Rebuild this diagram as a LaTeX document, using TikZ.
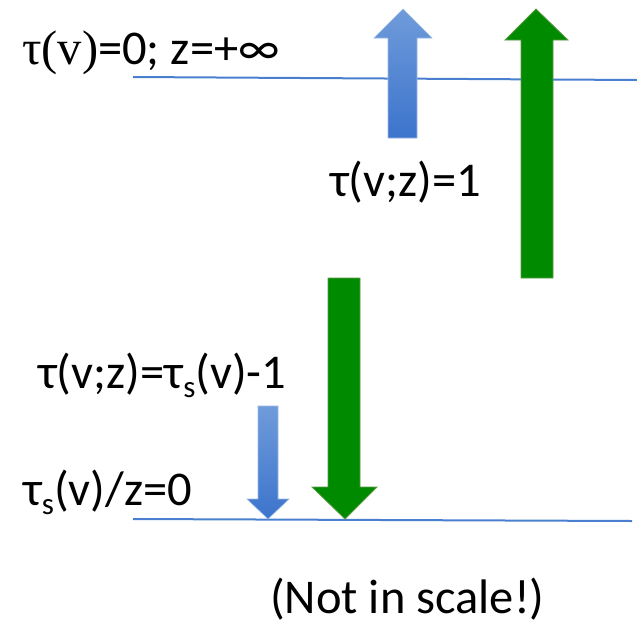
\documentclass[tikz,border=0pt]{standalone}
\usepackage{fontspec}
\setmainfont{Carlito}
\newfontfamily\cambria{Liberation Serif}
\definecolor{levelblue}{HTML}{4A7FD0}
\definecolor{arrowlight}{HTML}{6F9BDA}
\definecolor{arrowdark}{HTML}{3C74CC}
\definecolor{arrowgreen}{HTML}{008A00}
\definecolor{greenrim}{HTML}{5E9A48}
\newcommand{\subs}{\raisebox{-9pt}{\fontsize{31}{31}\selectfont s}}
\begin{document}
\begin{tikzpicture}[x=1pt,y=-1pt,
    level/.style={levelblue,line width=2pt},
    bluearrow/.style={top color=arrowlight,bottom color=arrowdark,draw=arrowlight!70,line width=0.6pt},
    greenarrow/.style={fill=arrowgreen,draw=greenrim,line width=0.8pt},
    lbl/.style={anchor=base west,inner sep=0pt,font=\fontsize{48.5}{58}\selectfont}]
  \useasboundingbox (0,0) rectangle (637,627);

  % Levels
  \draw[level] (133,77) -- (637,80);
  \draw[level] (133,519) -- (632,521);

  % Arrows up
  \path[bluearrow] (388,138) -- (388,38) -- (374,38) -- (403,9) -- (432,38) -- (417,38) -- (417,138) -- cycle;
  \path[greenarrow] (521,278) -- (521,40) -- (505,40) -- (536,9) -- (568,40) -- (553,40) -- (553,278) -- cycle;

  % Arrows down
  \path[bluearrow] (258,406) -- (258,499) -- (247,499) -- (268,519) -- (289,499) -- (278,499) -- (278,406) -- cycle;
  \path[greenarrow] (328,278) -- (328,487) -- (312,487) -- (345,519) -- (377,487) -- (360,487) -- (360,278) -- cycle;

  % Labels
  \node[lbl] (top) at (22,64) {{\cambria τ(v)}=0; z=+∞};
  \node[lbl] (one) at (330,196) {τ(v;z)=1};
  \node[lbl] (minus) at (38,388) {τ(v;z)=τ\subs(v)-1};
  \node[lbl] (zero) at (23,505) {τ\subs(v)/z=0};
  \node[lbl] (note) at (270,613) {(Not in scale!)};
\end{tikzpicture}
\end{document}
